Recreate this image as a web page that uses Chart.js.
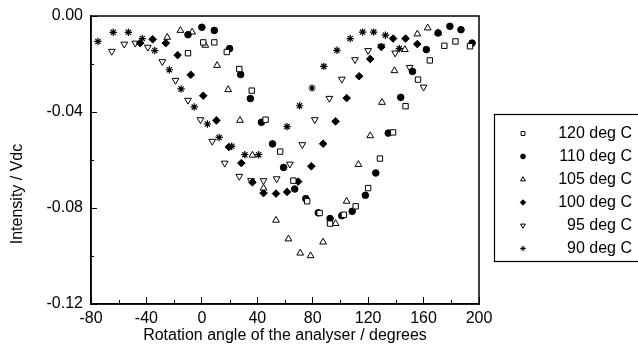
<!DOCTYPE html>
<html>
<head>
<meta charset="utf-8">
<script src="https://cdn.jsdelivr.net/npm/chart.js@4.4.1/dist/chart.umd.min.js"></script>
<style>
  html, body { margin: 0; padding: 0; background: #fff; }
  #wrap { width: 638px; height: 352px; }
</style>
</head>
<body>
<div id="wrap"><canvas id="chart" width="638" height="352"></canvas></div>
<script>
// series labels (legend order)
const seriesLabels = ['120 deg C', '110 deg C', '105 deg C', '100 deg C', ' 95 deg C', ' 90 deg C'];

// 120 deg C - open squares
const angles120 = [-10, 1, 9, 18, 27, 36, 46, 56.5, 66, 76, 85, 92.5, 102.5, 111, 120, 128.5, 138, 147, 156, 164.5, 175, 183, 193.5];
const values120 = [-0.0155, -0.011, -0.011, -0.015, -0.0221, -0.0311, -0.0432, -0.0565, -0.0686, -0.0772, -0.0821, -0.0865, -0.0828, -0.0793, -0.0717, -0.0594, -0.0485, -0.0376, -0.0265, -0.0185, -0.0124, -0.0106, -0.0126];

// 110 deg C - filled circles
const angles110 = [-10, 0, 9, 20, 28, 35, 43, 51, 59, 67, 75, 84, 92.5, 101, 108.5, 118, 125.5, 134.5, 143.5, 152, 162, 170.5, 179, 187, 195];
const values110 = [-0.0078, -0.0047, -0.006, -0.0136, -0.0244, -0.0344, -0.0443, -0.0533, -0.0631, -0.0721, -0.0761, -0.082, -0.0844, -0.0832, -0.0814, -0.0747, -0.0654, -0.0488, -0.0339, -0.0231, -0.014, -0.0071, -0.0043, -0.0057, -0.0113];

// 105 deg C - open triangles
const angles105 = [-25, -15.5, -7, 2.5, 11, 19, 27.5, 36.5, 44.5, 53.5, 62.5, 71, 78.5, 87.5, 96.5, 104.5, 113, 121.5, 130, 139, 146.5, 155.5, 163, 170.5];
const values105 = [-0.0089, -0.006, -0.0067, -0.0122, -0.0206, -0.0307, -0.0435, -0.058, -0.0717, -0.0851, -0.0929, -0.0988, -0.0999, -0.0942, -0.0865, -0.0772, -0.0619, -0.0499, -0.036, -0.0228, -0.014, -0.0075, -0.005, -0.007];

// 100 deg C - filled diamonds
const angles100 = [-44.5, -35.5, -26, -17.5, -8, 1, 10.5, 19.5, 28.5, 36.5, 44.5, 53.5, 61.5, 69.5, 79, 87.5, 96.5, 104.5, 113.5, 121.5, 129.5, 138, 147, 155.5];
const values100 = [-0.0113, -0.0097, -0.0113, -0.0163, -0.0245, -0.0332, -0.0435, -0.0546, -0.0613, -0.0693, -0.0738, -0.074, -0.0733, -0.069, -0.0626, -0.0532, -0.0439, -0.0342, -0.0251, -0.0179, -0.0129, -0.0094, -0.0094, -0.0117];

// 95 deg C - open down triangles
const angles95 = [-65, -56, -48, -39, -28.5, -19, -10, -1, 7.5, 16.5, 27, 35.5, 44.5, 54, 63.5, 72.5, 81.5, 92, 101, 110.5, 120, 129.5, 139.5, 150, 160];
const values95 = [-0.0147, -0.0117, -0.0113, -0.013, -0.019, -0.0268, -0.0351, -0.0432, -0.0522, -0.0613, -0.0668, -0.0686, -0.0686, -0.0678, -0.0617, -0.0536, -0.0432, -0.0343, -0.0263, -0.0182, -0.0144, -0.0126, -0.0154, -0.0214, -0.0296];

// 90 deg C - asterisks
const angles90 = [-75, -64, -53, -43, -34, -23.5, -15, -5.5, 4, 12.5, 21.5, 31, 41, 61.5, 70.5, 79.5, 88, 97.5, 107, 116, 124, 132.5, 142.5];
const values90 = [-0.0106, -0.0068, -0.0068, -0.0094, -0.0144, -0.0224, -0.0304, -0.0379, -0.045, -0.0506, -0.0543, -0.0578, -0.0578, -0.0461, -0.0374, -0.03, -0.021, -0.0143, -0.0094, -0.0067, -0.0067, -0.008, -0.0136];

// axes
const xMin = -80, xMax = 200, xStep = 40;
const xMinorTicks = [-60, -20, 20, 60, 100, 140, 180];
const yMin = -0.12, yMax = 0, yStep = 0.04;
const yMinorTicks = [-0.02, -0.06, -0.10];

const FONT = "'Liberation Sans', Arial, sans-serif";
Chart.defaults.font.family = FONT;
Chart.defaults.font.size = 16;
Chart.defaults.color = '#000';

function pts(xs, ys) {
    return xs.map((x, i) => ({ x: x, y: ys[i] }));
}

const styles = [
    { pointStyle: 'rect',     radius: 3.8, fill: '#fff', rotation: 0,   width: 1 },
    { pointStyle: 'circle',   radius: 3.3, fill: '#000', rotation: 0,   width: 1 },
    { pointStyle: 'triangle', radius: 3.9, fill: '#fff', rotation: 0,   width: 1 },
    { pointStyle: 'rectRot',  radius: 3.8, fill: '#000', rotation: 0,   width: 1 },
    { pointStyle: 'triangle', radius: 3.9, fill: '#fff', rotation: 180, width: 1 },
    { pointStyle: 'star',     radius: 3.7, fill: '#000', rotation: 0,   width: 1.2 }
];
const seriesData = [
    pts(angles120, values120), pts(angles110, values110), pts(angles105, values105),
    pts(angles100, values100), pts(angles95, values95), pts(angles90, values90)
];

const datasets = seriesLabels.map((label, i) => ({
    label: label,
    data: seriesData[i],
    showLine: false,
    pointStyle: styles[i].pointStyle,
    pointRadius: styles[i].radius,
    pointRotation: styles[i].rotation,
    pointBackgroundColor: styles[i].fill,
    pointBorderColor: '#000',
    pointBorderWidth: styles[i].width
}));

// frame, minor ticks, y title and the boxed legend
const extrasPlugin = {
    id: 'extras',
    afterDraw(chart) {
        const ctx = chart.ctx;
        const a = chart.chartArea;
        const sx = chart.scales.x, sy = chart.scales.y;
        ctx.save();
        ctx.strokeStyle = '#000';
        ctx.lineWidth = 1.5;
        ctx.strokeRect(a.left, a.top, a.right - a.left, a.bottom - a.top);

        ctx.lineWidth = 1;
        xMinorTicks.forEach(v => {
            const px = Math.round(sx.getPixelForValue(v)) + 0.5;
            ctx.beginPath();
            ctx.moveTo(px, a.bottom);
            ctx.lineTo(px, a.bottom - 4);
            ctx.stroke();
        });
        yMinorTicks.forEach(v => {
            const py = Math.round(sy.getPixelForValue(v)) + 0.5;
            ctx.beginPath();
            ctx.moveTo(a.left, py);
            ctx.lineTo(a.left + 3, py);
            ctx.stroke();
        });

        // y axis title
        ctx.fillStyle = '#000';
        ctx.font = '16px ' + FONT;
        ctx.textAlign = 'center';
        ctx.textBaseline = 'middle';
        ctx.translate(18, 194);
        ctx.rotate(-Math.PI / 2);
        ctx.fillText('Intensity / Vdc', 0, 0);
        ctx.restore();

        // legend
        ctx.save();
        ctx.strokeStyle = '#000';
        ctx.lineWidth = 1.2;
        ctx.strokeRect(494.5, 114.5, 200, 147);
        ctx.font = '16px ' + FONT;
        ctx.textAlign = 'right';
        ctx.textBaseline = 'middle';
        chart.data.datasets.forEach((ds, i) => {
            const y = 133.5 + i * 23;
            ctx.fillStyle = ds.pointBackgroundColor;
            ctx.strokeStyle = '#000';
            ctx.lineWidth = 1;
            Chart.helpers.drawPoint(ctx, {
                pointStyle: ds.pointStyle,
                radius: ds.pointRadius * 0.72,
                rotation: ds.pointRotation,
                borderWidth: 1
            }, 523, y);
            ctx.fillStyle = '#000';
            ctx.fillText(ds.label, 632, y);
        });
        ctx.restore();
    }
};

new Chart(document.getElementById('chart'), {
    type: 'scatter',
    data: { datasets: datasets },
    options: {
        responsive: false,
        animation: false,
        devicePixelRatio: 1,
        layout: { padding: { left: 0, top: 16, right: 159, bottom: 0 } },
        plugins: { legend: { display: false }, tooltip: { enabled: false } },
        scales: {
            x: {
                type: 'linear',
                min: xMin,
                max: xMax,
                afterFit: s => { s.height = 48; s.paddingLeft = 0; s.paddingRight = 0; },
                ticks: { stepSize: xStep, padding: 12, color: '#000', maxRotation: 0 },
                grid: { drawOnChartArea: false, tickLength: -7, tickColor: '#000' },
                border: { color: '#000', width: 1.5 },
                title: {
                    display: true,
                    text: 'Rotation angle of the analyser / degrees',
                    color: '#000',
                    padding: { top: 0, bottom: 7 }
                }
            },
            y: {
                type: 'linear',
                min: yMin,
                max: yMax,
                afterFit: s => { s.width = 91; s.paddingTop = 0; s.paddingBottom = 0; },
                ticks: { stepSize: yStep, padding: 14, color: '#000', callback: v => v.toFixed(2) },
                grid: { drawOnChartArea: false, tickLength: -6, tickColor: '#000' },
                border: { color: '#000', width: 1.5 }
            }
        }
    },
    plugins: [extrasPlugin]
});
</script>
</body>
</html>
